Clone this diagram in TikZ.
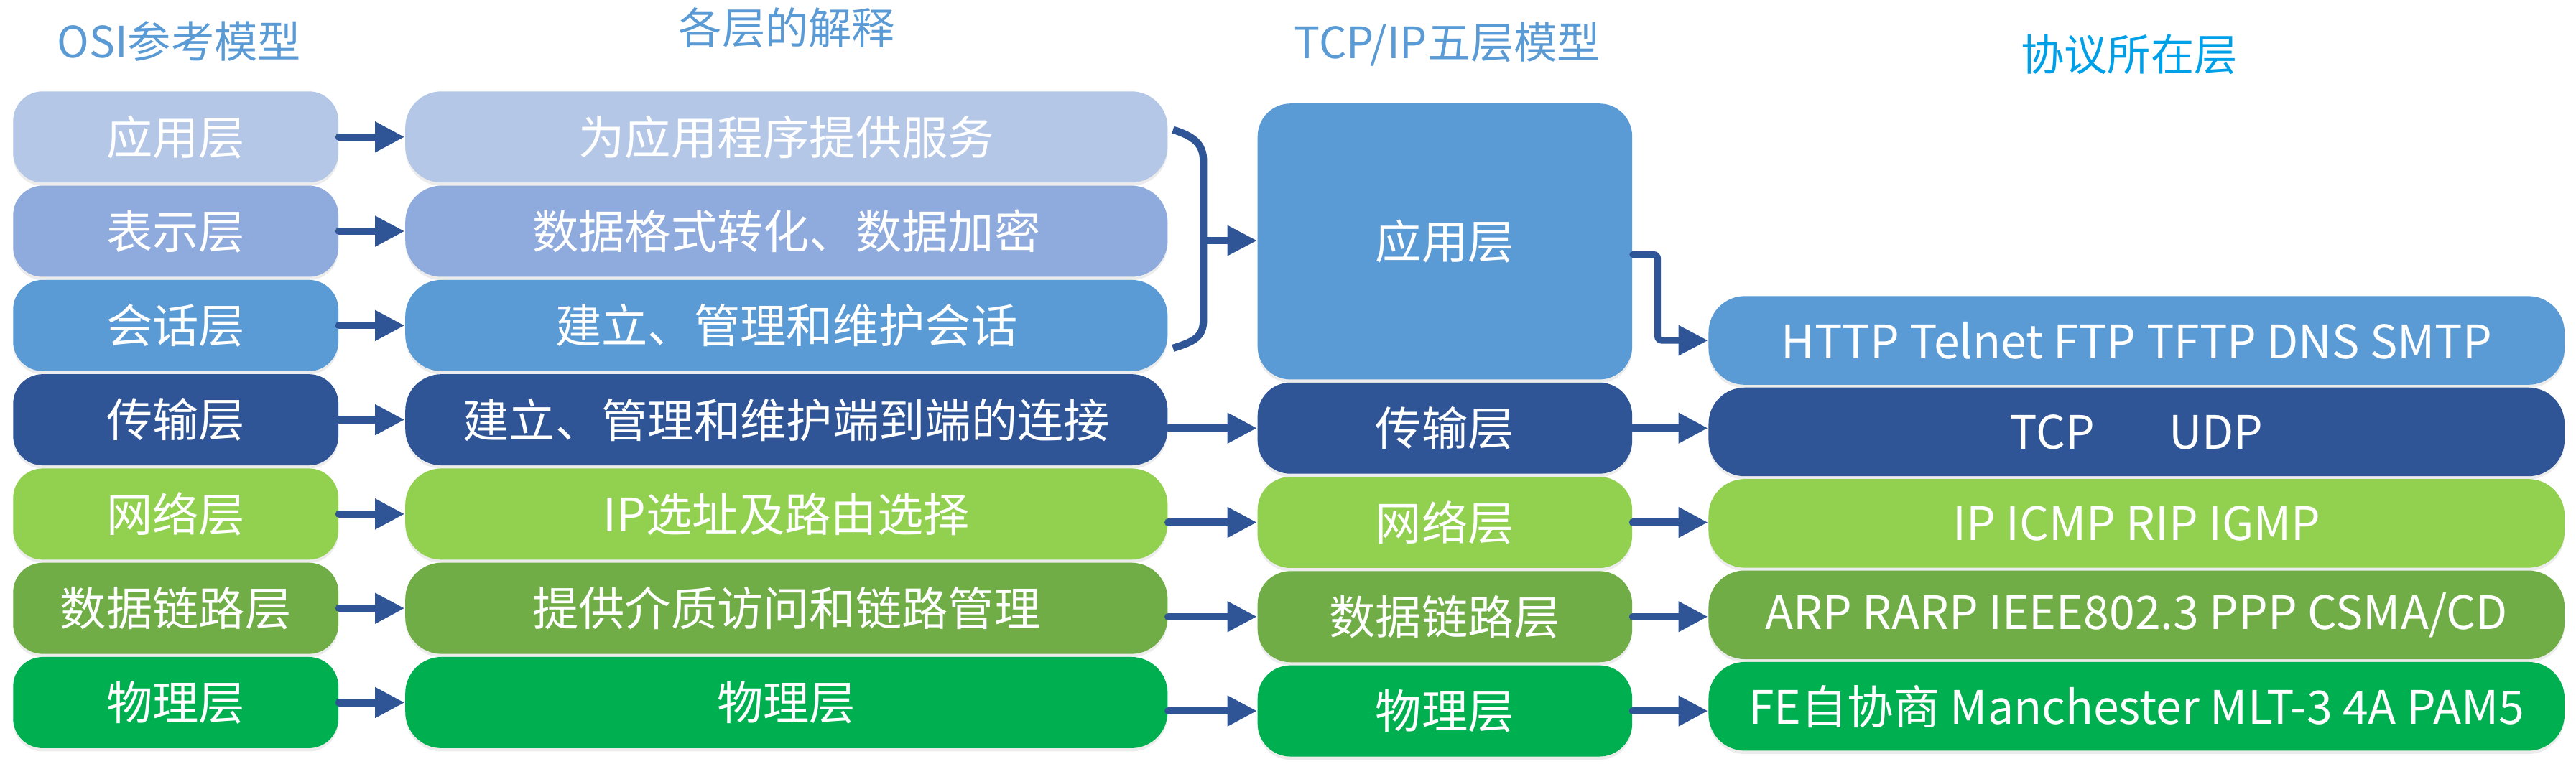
\documentclass[tikz,border=0pt]{standalone}
\usepackage{fontspec}
\setmainfont{Noto Sans CJK SC}
\usetikzlibrary{arrows.meta,positioning,shadows}
\definecolor{cyingyong}{RGB}{180,199,231}
\definecolor{cbiaoshi}{RGB}{143,170,220}
\definecolor{chuihua}{RGB}{91,155,213}
\definecolor{cchuanshu}{RGB}{47,85,151}
\definecolor{cwangluo}{RGB}{146,208,80}
\definecolor{clianlu}{RGB}{112,173,71}
\definecolor{cwuli}{RGB}{0,176,80}
\definecolor{jtlan}{RGB}{47,85,151}
\definecolor{btlan}{RGB}{91,155,213}
\definecolor{btqing}{RGB}{0,160,233}
\tikzset{
  ceng/.style={rectangle,rounded corners=3.6mm,minimum height=11.1mm,inner sep=0pt,
    text=white,font=\fontsize{16}{19}\selectfont,
    drop shadow={opacity=0.15,shadow xshift=0pt,shadow yshift=-0.4mm}},
  osi/.style={ceng,minimum width=39.6mm},
  jieshi/.style={ceng,minimum width=92.8mm,rounded corners=4.4mm},
  tcpip/.style={ceng,minimum width=45.6mm,rounded corners=4mm},
  xieyi/.style={ceng,minimum width=104.2mm,minimum height=10.8mm,rounded corners=4.4mm},
  jiantou/.style={-{Triangle[length=3.6mm,width=3.5mm]},line width=0.9mm,jtlan,line cap=round},
  kuohao/.style={line width=0.9mm,jtlan},
  biaoti/.style={font=\fontsize{15}{18}\selectfont,text=btlan},
}
\begin{document}
\begin{tikzpicture}[x=0.2mm,y=-0.2mm,node distance=0.24mm and 8mm]
  \useasboundingbox (0,0) rectangle (1568,465);
  % titles
  \node[biaoti] (h1) at (109,25) {OSI参考模型};
  \node[biaoti] (h2) at (479,17) {各层的解释};
  \node[biaoti] (h3) at (881,27) {TCP/IP五层模型};
  \node[biaoti,text=btqing] (h4) at (1296,33) {协议所在层};
  % OSI model
  \node[osi,fill=cyingyong] (o1) at (107,83.4) {应用层};
  \node[osi,fill=cbiaoshi,below=of o1] (o2) {表示层};
  \node[osi,fill=chuihua,below=of o2] (o3) {会话层};
  \node[osi,fill=cchuanshu,below=of o3] (o4) {传输层};
  \node[osi,fill=cwangluo,below=of o4] (o5) {网络层};
  \node[osi,fill=clianlu,below=of o5] (o6) {数据链路层};
  \node[osi,fill=cwuli,below=of o6] (o7) {物理层};
  % explanations
  \node[jieshi,fill=cyingyong,right=of o1] (e1) {为应用程序提供服务};
  \node[jieshi,fill=cbiaoshi,right=of o2] (e2) {数据格式转化、数据加密};
  \node[jieshi,fill=chuihua,right=of o3] (e3) {建立、管理和维护会话};
  \node[jieshi,fill=cchuanshu,right=of o4] (e4) {建立、管理和维护端到端的连接};
  \node[jieshi,fill=cwangluo,right=of o5] (e5) {IP选址及路由选择};
  \node[jieshi,fill=clianlu,right=of o6] (e6) {提供介质访问和链路管理};
  \node[jieshi,fill=cwuli,right=of o7] (e7) {物理层};
  \foreach \i in {1,...,7} \draw[jiantou] (o\i) -- (e\i);
  % TCP/IP five layers
  \node[tcpip,fill=cchuanshu] (t2) at (879.5,260.7) {传输层};
  \node[tcpip,fill=chuihua,minimum height=33.6mm,above=of t2] (t1) {应用层};
  \node[tcpip,fill=cwangluo,below=of t2] (t3) {网络层};
  \node[tcpip,fill=clianlu,below=of t3] (t4) {数据链路层};
  \node[tcpip,fill=cwuli,below=of t4] (t5) {物理层};
  % protocols
  \node[xieyi,fill=cchuanshu] (x2) at (1300.5,263) {TCP\hspace{9mm}UDP};
  \node[xieyi,fill=chuihua,above=0.2mm of x2] (x1) {HTTP Telnet FTP TFTP DNS SMTP};
  \node[xieyi,fill=cwangluo,below=0.2mm of x2] (x3) {IP ICMP RIP IGMP};
  \node[xieyi,fill=clianlu,below=0.2mm of x3] (x4) {ARP RARP IEEE802.3 PPP CSMA/CD};
  \node[xieyi,fill=cwuli,below=0.2mm of x4] (x5) {FE自协商 Manchester MLT-3 4A PAM5};
  % bracket for the upper three layers
  \draw[kuohao] (714,79) .. controls (727,83) and (732.5,88) .. (732.5,98)
    -- (732.5,195) .. controls (732.5,205) and (727,208) .. (714,212);
  \coordinate (kmid) at (732.5,146.5);
  \draw[jiantou,line width=0.8mm] (kmid) -- (kmid -| t1.west);
  \foreach \i in {4,...,7} {
    \pgfmathtruncatemacro{\j}{\i-2}
    \draw[jiantou] (e\i.east |- t\j) -- (t\j.west);
  }
  \foreach \i in {2,...,5} \draw[jiantou] (t\i.east) -- (t\i.east -| x\i.west);
  \coordinate (zhe) at (1009,155);
  \draw[jiantou,line width=0.8mm,rounded corners=0.5mm] (t1.east |- zhe) -- (zhe) |- (x1.west);
\end{tikzpicture}
\end{document}
